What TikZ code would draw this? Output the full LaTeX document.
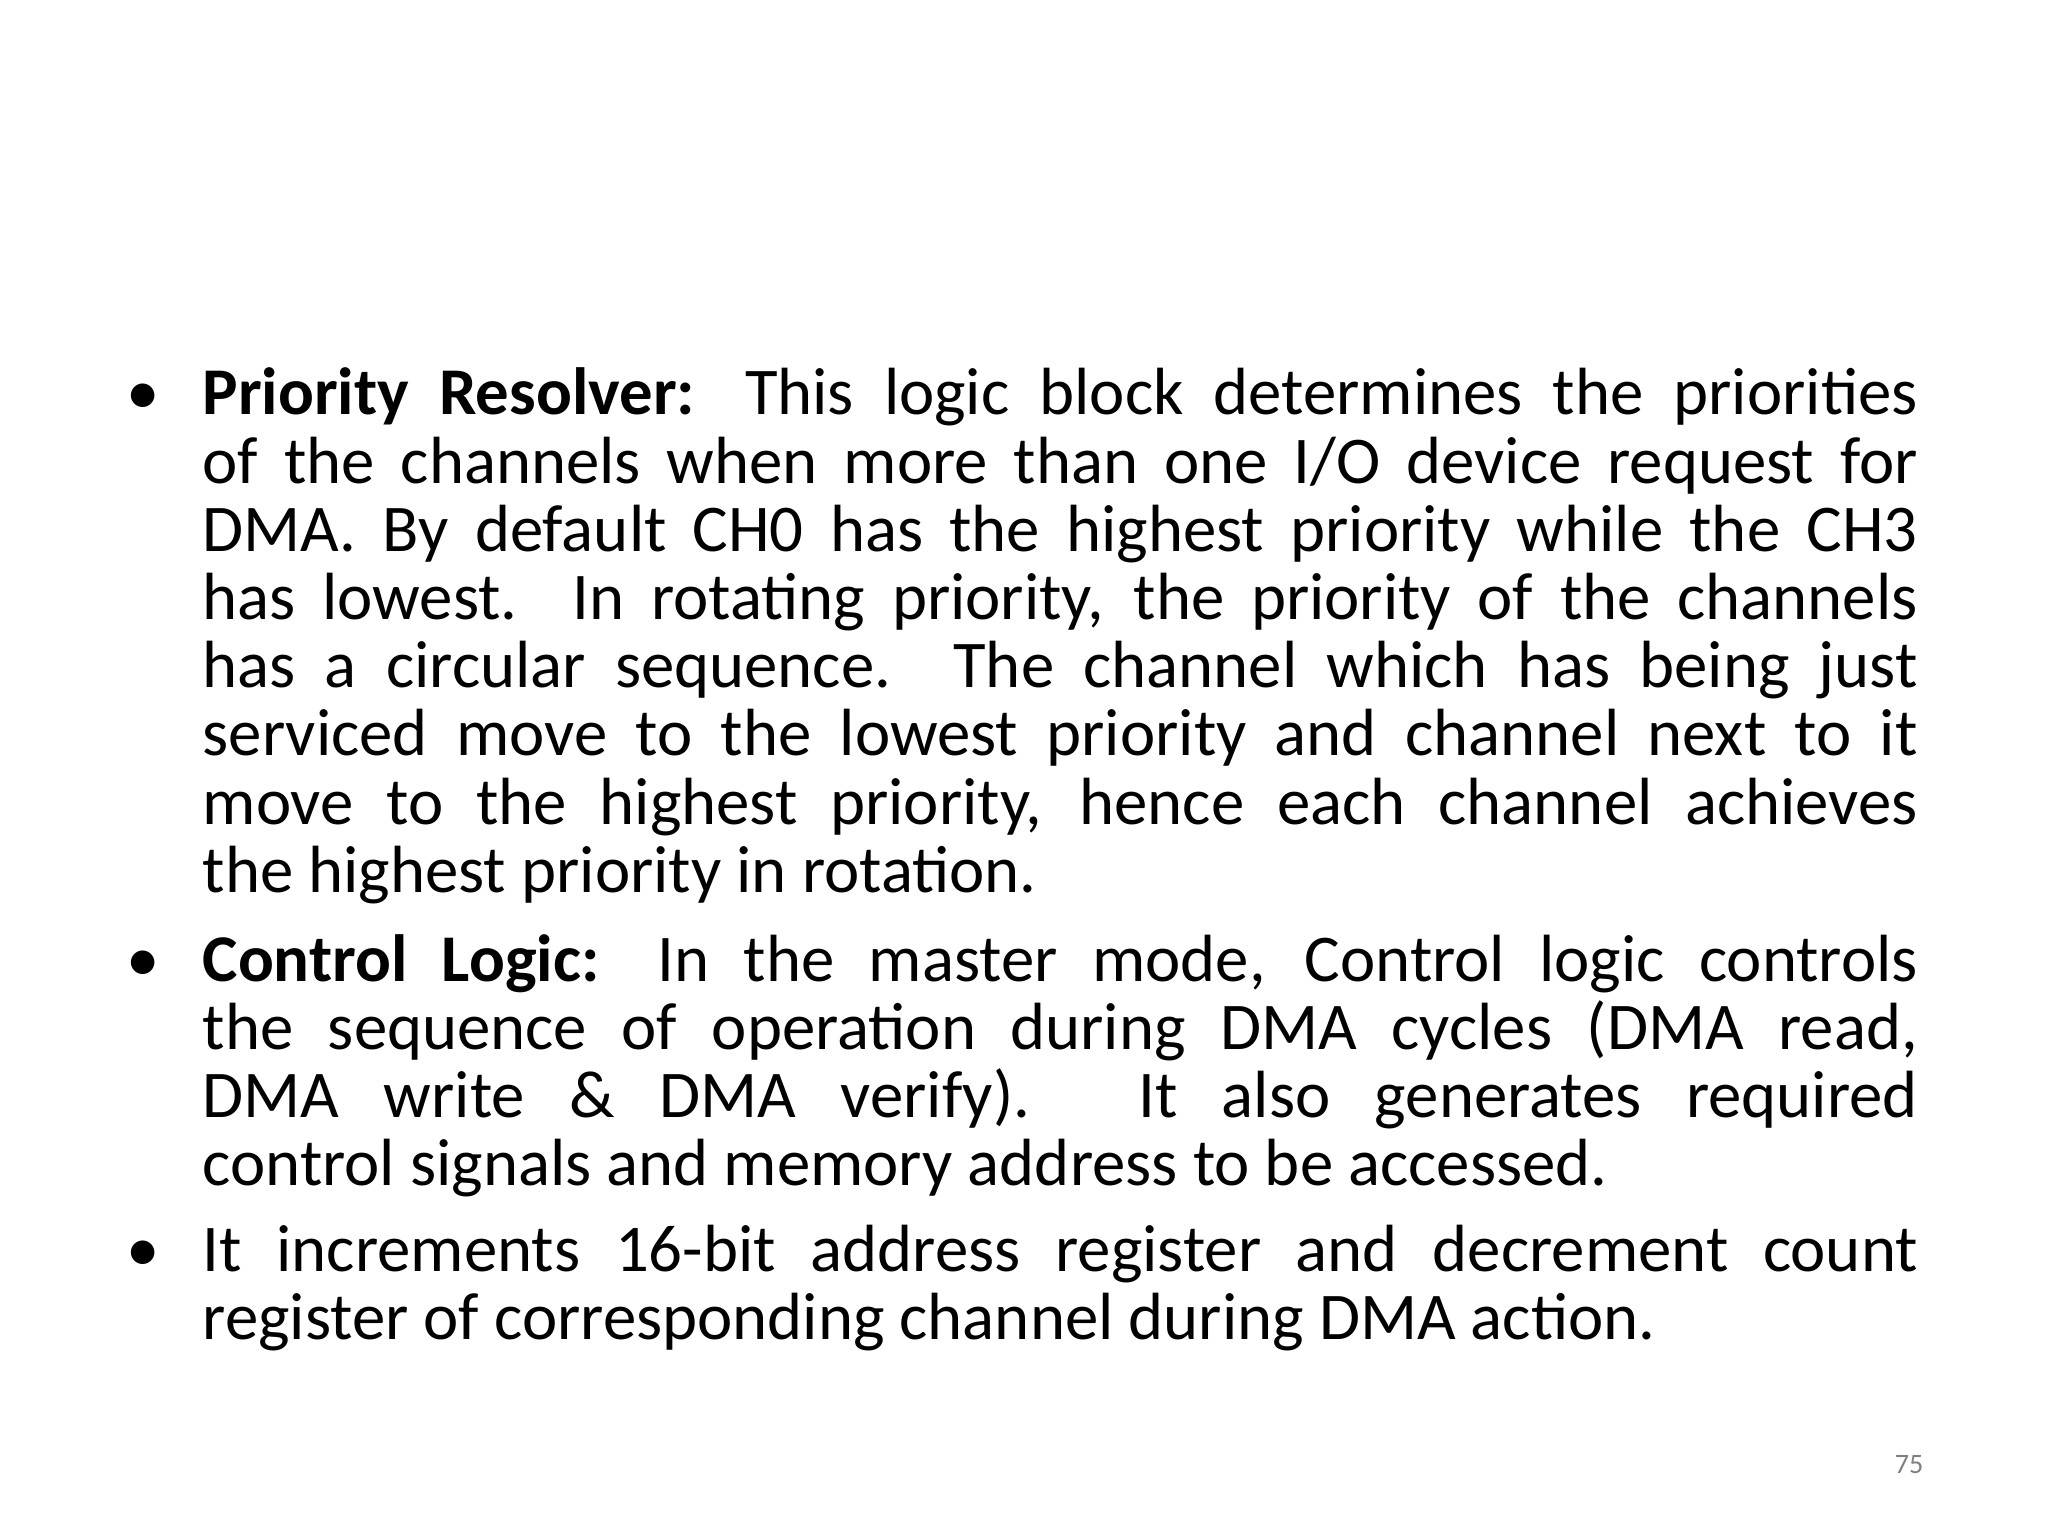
\documentclass[tikz,border=0pt]{standalone}
\usepackage{fontspec}
\setmainfont{Carlito}
\tikzset{para/.style={anchor=base west, inner sep=0pt},
  bul/.style={anchor=base west, inner sep=0pt}}
\newcommand{\mytext}[1]{\begin{minipage}[t]{488pt}\fontsize{19}{19.4}\selectfont\rightskip=0pt\parfillskip=0pt plus 1fil #1\end{minipage}}
\begin{document}
\begin{tikzpicture}
\useasboundingbox[fill=white] (0,0) rectangle (20.48,-15.36);
\node[bul] (b1) at (1.26,-4.15) {\fontsize{19}{19.4}\selectfont •};
\node[para] (p1) at (2.02,-4.15) {\mytext{\textbf{Priority Resolver:} This logic block determines the priorities\linebreak
of the channels when more than one I/O device request for\linebreak
DMA. By default CH0 has the highest priority while the CH3\linebreak
has lowest. In rotating priority, the priority of the channels\linebreak
has a circular sequence. The channel which has being just\linebreak
serviced move to the lowest priority and channel next to it\linebreak
move to the highest priority, hence each channel achieves\linebreak
the highest priority in rotation.}};
\node[bul] (b2) at (1.26,-9.81) {\fontsize{19}{19.4}\selectfont •};
\node[para] (p2) at (2.02,-9.81) {\mytext{\textbf{Control Logic:} In the master mode, Control logic controls\linebreak
the sequence of operation during DMA cycles (DMA read,\linebreak
DMA write \& DMA verify). It also generates required\linebreak
control signals and memory address to be accessed.}};
\node[bul] (b3) at (1.26,-12.71) {\fontsize{19}{19.4}\selectfont •};
\node[para] (p3) at (2.02,-12.71) {\mytext{It increments 16-bit address register and decrement count\linebreak
register of corresponding channel during DMA action.}};
\node[anchor=base east, inner sep=0pt, text=gray] (pg) at (19.24,-14.73) {\fontsize{8}{10}\selectfont 75};
\end{tikzpicture}
\end{document}
